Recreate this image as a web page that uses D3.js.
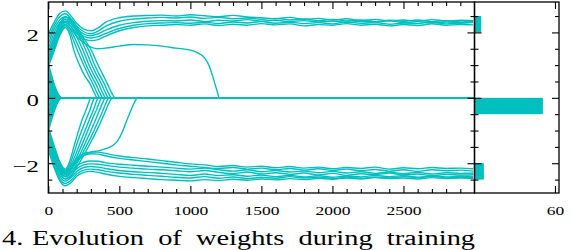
<!DOCTYPE html>
<html>
<head>
<meta charset="utf-8">
<script src="https://cdn.jsdelivr.net/npm/d3@7"></script>
<style>
  body { margin: 0; background: #fff; }
  svg { display: block; }
</style>
</head>
<body>
<svg id="chart" width="572" height="250"></svg>
<script>
// ---- data ----
// iterations shared by the weights that stay away from zero
const stayT = [0,40,80,120,160,200,250,300,350,400,500,600,700,800,900,1000,1100,1200,1300,1400,1500,
  1600,1700,1800,1900,2000,2100,2200,2300,2400,2500,2600,2700,2800,2900,2990];

const upperStay = [
  [1.95,2.3,2.58,2.66,2.5,2.28,2.1,2.05,2.14,2.3,2.45,2.5,2.52,2.53,2.5,2.54,2.51,2.48,2.52,2.47,2.45,2.42,2.46,2.4,2.43,2.38,2.42,2.36,2.4,2.35,2.38,2.34,2.39,2.35,2.37,2.36],
  [1.8,2.2,2.48,2.57,2.42,2.2,2.02,1.96,2.04,2.18,2.34,2.41,2.44,2.46,2.44,2.47,2.43,2.46,2.42,2.44,2.4,2.43,2.38,2.41,2.36,2.4,2.35,2.38,2.33,2.37,2.34,2.38,2.33,2.36,2.32,2.35],
  [1.65,2.1,2.38,2.48,2.35,2.12,1.95,1.9,1.96,2.06,2.22,2.3,2.34,2.36,2.35,2.38,2.33,2.37,2.35,2.39,2.34,2.37,2.33,2.36,2.32,2.35,2.3,2.34,2.31,2.36,2.3,2.33,2.29,2.32,2.3,2.33],
  [1.5,1.98,2.3,2.4,2.27,2.05,1.88,1.83,1.87,1.96,2.12,2.22,2.27,2.29,2.3,2.28,2.31,2.27,2.32,2.29,2.33,2.28,2.31,2.27,2.3,2.26,2.32,2.28,2.3,2.25,2.29,2.27,2.31,2.26,2.28,2.3],
  [1.35,1.85,2.2,2.32,2.18,1.96,1.8,1.75,1.78,1.88,2.05,2.15,2.2,2.22,2.24,2.22,2.26,2.21,2.25,2.22,2.27,2.23,2.26,2.2,2.24,2.22,2.27,2.22,2.25,2.2,2.24,2.21,2.26,2.22,2.24,2.23]
];

const lowerStay = [
  [-1.0,-1.6,-2.05,-2.23,-2.08,-1.85,-1.7,-1.66,-1.66,-1.7,-1.78,-1.83,-1.87,-1.92,-1.97,-2.02,-2.05,-2.1,-2.07,-2.12,-2.09,-2.14,-2.1,-2.15,-2.12,-2.17,-2.13,-2.16,-2.12,-2.18,-2.14,-2.17,-2.13,-2.16,-2.15,-2.17],
  [-1.1,-1.7,-2.12,-2.3,-2.15,-1.92,-1.76,-1.71,-1.72,-1.77,-1.85,-1.9,-1.95,-2.0,-2.05,-2.09,-2.13,-2.16,-2.13,-2.18,-2.15,-2.2,-2.16,-2.21,-2.17,-2.22,-2.18,-2.23,-2.19,-2.24,-2.2,-2.25,-2.2,-2.23,-2.21,-2.24],
  [-1.2,-1.8,-2.22,-2.4,-2.28,-2.08,-1.97,-1.93,-1.94,-1.98,-2.03,-2.06,-2.09,-2.12,-2.15,-2.18,-2.15,-2.2,-2.24,-2.2,-2.26,-2.22,-2.27,-2.24,-2.29,-2.25,-2.3,-2.26,-2.31,-2.27,-2.32,-2.28,-2.33,-2.29,-2.31,-2.3],
  [-1.3,-1.88,-2.3,-2.48,-2.37,-2.17,-2.05,-2.02,-2.03,-2.06,-2.12,-2.15,-2.18,-2.2,-2.23,-2.26,-2.22,-2.28,-2.32,-2.27,-2.33,-2.29,-2.34,-2.3,-2.36,-2.31,-2.37,-2.32,-2.35,-2.3,-2.36,-2.33,-2.38,-2.34,-2.36,-2.35],
  [-1.4,-1.96,-2.38,-2.55,-2.44,-2.25,-2.13,-2.1,-2.12,-2.16,-2.22,-2.26,-2.28,-2.31,-2.34,-2.37,-2.33,-2.38,-2.35,-2.4,-2.36,-2.41,-2.37,-2.42,-2.38,-2.43,-2.39,-2.42,-2.37,-2.41,-2.38,-2.43,-2.39,-2.42,-2.4,-2.41],
  [-1.5,-2.05,-2.46,-2.62,-2.52,-2.33,-2.21,-2.18,-2.2,-2.24,-2.3,-2.34,-2.37,-2.4,-2.43,-2.45,-2.41,-2.46,-2.42,-2.47,-2.43,-2.46,-2.41,-2.45,-2.42,-2.47,-2.43,-2.46,-2.42,-2.45,-2.41,-2.44,-2.4,-2.45,-2.42,-2.44],
  [-1.6,-2.12,-2.53,-2.69,-2.59,-2.4,-2.28,-2.25,-2.28,-2.33,-2.4,-2.44,-2.47,-2.5,-2.52,-2.54,-2.5,-2.53,-2.49,-2.52,-2.48,-2.51,-2.47,-2.5,-2.46,-2.49,-2.45,-2.48,-2.44,-2.47,-2.45,-2.48,-2.44,-2.47,-2.45,-2.46]
];

// weights that peak and then die out, as [iteration, value]
const upperDecay = [
  [[0,0.95],[40,1.42],[80,1.9],[120,2.15],[150,1.95],[180,1.45],[220,1.0],[260,0.65],[295,0.42],[322,0.17],[345,0],[2990,0]],
  [[0,1.0],[40,1.48],[80,1.96],[120,2.2],[150,2.05],[180,1.72],[205,1.45],[245,1.05],[282,0.7],[315,0.42],[342,0.16],[365,0],[2990,0]],
  [[0,1.08],[40,1.55],[80,2.02],[120,2.25],[150,2.13],[180,1.88],[225,1.45],[262,1.05],[300,0.7],[335,0.42],[362,0.16],[385,0],[2990,0]],
  [[0,1.15],[40,1.62],[80,2.07],[120,2.3],[155,2.2],[190,1.95],[245,1.45],[282,1.05],[320,0.7],[355,0.42],[382,0.16],[405,0],[2990,0]],
  [[0,1.22],[40,1.7],[80,2.13],[120,2.35],[160,2.26],[200,2.02],[265,1.45],[302,1.05],[340,0.7],[375,0.42],[402,0.16],[425,0],[2990,0]],
  [[0,1.3],[40,1.76],[80,2.19],[120,2.41],[160,2.33],[200,2.1],[240,1.8],[285,1.45],[322,1.05],[360,0.7],[395,0.42],[422,0.16],[445,0],[2990,0]],
  [[0,1.38],[40,1.84],[80,2.26],[120,2.47],[160,2.4],[200,2.18],[250,1.82],[305,1.44],[345,1.05],[385,0.7],[417,0.42],[445,0.16],[470,0],[2990,0]],
  [[0,1.15],[40,1.6],[80,2.02],[120,2.24],[160,2.1],[200,1.88],[250,1.68],[300,1.55],[350,1.5],[400,1.52],[500,1.58],[600,1.63],[700,1.62],[800,1.58],[900,1.52],[1000,1.46],[1050,1.38],[1100,1.22],[1130,1.0],[1160,0.62],[1185,0.25],[1205,0],[2990,0]]
];

const lowerDecay = [
  [[0,-0.9],[40,-1.45],[80,-1.95],[120,-2.18],[150,-1.95],[180,-1.5],[210,-1.05],[240,-0.65],[265,-0.38],[285,-0.14],[300,0],[2990,0]],
  [[0,-0.95],[40,-1.5],[80,-2.0],[120,-2.22],[150,-2.05],[180,-1.7],[210,-1.3],[240,-0.95],[270,-0.62],[295,-0.35],[312,-0.13],[325,0],[2990,0]],
  [[0,-1.0],[40,-1.55],[80,-2.05],[120,-2.27],[160,-2.05],[200,-1.65],[240,-1.2],[270,-0.88],[300,-0.55],[322,-0.32],[338,-0.12],[350,0],[2990,0]],
  [[0,-1.05],[40,-1.6],[80,-2.1],[120,-2.32],[160,-2.15],[200,-1.8],[240,-1.4],[280,-0.98],[315,-0.6],[345,-0.3],[362,-0.11],[375,0],[2990,0]],
  [[0,-1.12],[40,-1.66],[80,-2.14],[120,-2.36],[160,-2.22],[200,-1.92],[250,-1.48],[290,-1.1],[330,-0.7],[365,-0.33],[387,-0.11],[400,0],[2990,0]],
  [[0,-1.2],[40,-1.72],[80,-2.2],[120,-2.42],[160,-2.3],[200,-2.02],[250,-1.62],[300,-1.2],[345,-0.78],[385,-0.38],[410,-0.12],[425,0],[2990,0]],
  [[0,-1.28],[40,-1.8],[80,-2.26],[120,-2.48],[160,-2.38],[200,-2.12],[250,-1.75],[300,-1.35],[350,-0.92],[395,-0.48],[430,-0.14],[450,0],[2990,0]],
  [[0,-1.15],[40,-1.65],[80,-2.08],[120,-2.3],[160,-2.18],[200,-1.95],[250,-1.76],[300,-1.66],[350,-1.62],[400,-1.56],[450,-1.47],[490,-1.3],[520,-1.05],[550,-0.72],[580,-0.4],[605,-0.15],[630,0],[2990,0]]
];

// weights that collapse to zero right away: start value and iteration where they reach zero
const quickStart = [1.05,0.95,0.85,0.75,0.65,0.55,0.45,0.35,0.28,0.2,0.14,0.08,0.04,0.02,-0.02,-0.05,-0.1,-0.16,
  -0.22,-0.3,-0.38,-0.46,-0.55,-0.63,-0.72,-0.8,-0.88,-0.95,-1.02,0.6,-0.5,0.3,-0.25,0.9,-0.85];
const quickZeroAt = [96,92,88,85,82,78,74,70,66,62,58,50,40,30,30,40,55,60,64,68,72,76,80,84,88,90,93,95,98,80,75,68,62,90,92];
const lineEnd = 2990;

// histogram of the final weights (bin lower edge, count)
const histLower = [-2.5, -0.5, 2.0];
const histCounts = [7, 51, 5];
const binWidth = 0.5;

const xMajor = [0, 500, 1000, 1500, 2000, 2500];
const xMinor = d3.range(100, 3000, 100).filter(v => v % 500 !== 0);
const yMajor = [-2, 0, 2];
const yMinor = [-2.5, -1.5, -1, -0.5, 0.5, 1, 1.5, 2.5];
const histTicks = [60];
const figNumber = "4.";
const caption = "Evolution of weights during training";

// ---- drawing ----
const teal = "#00bfbf";
const serif = "'Liberation Serif', 'Times New Roman', serif";
const stretch = 1.42;
const plot = {left: 48.3, right: 474.5, top: 2, bottom: 193};
const histRight = 559;
const plain = d3.format("");

const svg = d3.select("#chart");

const x = d3.scaleLinear().domain([0, 3000]).range([plot.left, plot.right]);
const y = d3.scaleLinear().domain([-2.91, 2.93]).range([plot.bottom, plot.top]);
const hx = d3.scaleLinear().domain([0, 63]).range([plot.right, histRight]);

svg.append("clipPath").attr("id", "clip")
  .append("rect")
  .attr("x", plot.left).attr("y", plot.top)
  .attr("width", plot.right - plot.left).attr("height", plot.bottom - plot.top);

const line = d3.line()
  .x(d => x(d[0]))
  .y(d => y(d[1]))
  .curve(d3.curveMonotoneX);

let series = [];
upperStay.concat(lowerStay).forEach(vals => series.push(stayT.map((t, i) => [t, vals[i]])));
upperDecay.concat(lowerDecay).forEach(s => series.push(s));
quickStart.forEach((v, i) => series.push([[0, v], [quickZeroAt[i], 0], [lineEnd, 0]]));

svg.append("g")
  .attr("clip-path", "url(#clip)")
  .selectAll("path")
  .data(series)
  .join("path")
  .attr("fill", "none")
  .attr("stroke", teal)
  .attr("stroke-width", 1.4)
  .attr("stroke-linejoin", "round")
  .attr("d", line);

// histogram bars
svg.append("g")
  .selectAll("rect")
  .data(histLower)
  .join("rect")
  .attr("x", hx(0))
  .attr("y", d => y(d + binWidth))
  .attr("width", (d, i) => hx(histCounts[i]) - hx(0))
  .attr("height", d => y(d) - y(d + binWidth))
  .attr("fill", teal);

// axes, ticks pointing inwards
function addAxis(axis, tx, ty, len) {
  const g = svg.append("g")
    .attr("transform", "translate(" + tx + "," + ty + ")")
    .call(axis.tickSize(-len));
  g.select(".domain").remove();
  g.selectAll("line").attr("stroke", "#000").attr("stroke-width", 1.1);
  return g;
}
const blank = () => "";

// main panel
const xb = addAxis(d3.axisBottom(x).tickValues(xMajor).tickFormat(plain), 0, plot.bottom, 7);
addAxis(d3.axisBottom(x).tickValues(xMinor).tickFormat(blank), 0, plot.bottom, 4);
addAxis(d3.axisTop(x).tickValues(xMajor).tickFormat(blank), 0, plot.top, 7);
addAxis(d3.axisTop(x).tickValues(xMinor).tickFormat(blank), 0, plot.top, 4);
const yl = addAxis(d3.axisLeft(y).tickValues(yMajor).tickFormat(plain), plot.left, 0, 7);
addAxis(d3.axisLeft(y).tickValues(yMinor).tickFormat(blank), plot.left, 0, 4);
addAxis(d3.axisRight(y).tickValues(yMajor).tickFormat(blank), plot.right, 0, 7);
addAxis(d3.axisRight(y).tickValues(yMinor).tickFormat(blank), plot.right, 0, 4);

// histogram panel
addAxis(d3.axisLeft(y).tickValues(yMajor).tickFormat(blank), plot.right, 0, 7);
addAxis(d3.axisLeft(y).tickValues(yMinor).tickFormat(blank), plot.right, 0, 4);
addAxis(d3.axisRight(y).tickValues(yMajor).tickFormat(blank), histRight, 0, 7);
addAxis(d3.axisRight(y).tickValues(yMinor).tickFormat(blank), histRight, 0, 4);
const hb = addAxis(d3.axisBottom(hx).tickValues(histTicks).tickFormat(plain), 0, plot.bottom, 7);
addAxis(d3.axisTop(hx).tickValues(histTicks).tickFormat(blank), 0, plot.top, 7);

// tick label styling (the figure is stretched horizontally)
[xb, hb].forEach(g => g.selectAll("text")
  .attr("y", 22.3).attr("dy", 0)
  .attr("fill", "#000")
  .attr("font-family", serif).attr("font-size", 12.3)
  .attr("transform", "scale(" + stretch + ",1)"));

yl.selectAll("text")
  .attr("x", -(plot.left - 38.8) / stretch).attr("dy", 0).attr("y", 8)
  .attr("fill", "#000")
  .attr("font-family", serif).attr("font-size", 17.5)
  .attr("transform", "scale(" + stretch + ",1)");

// frames
[[plot.left, plot.right], [plot.right, histRight]].forEach(([a, b]) => {
  svg.append("rect")
    .attr("x", a).attr("y", plot.top)
    .attr("width", b - a).attr("height", plot.bottom - plot.top)
    .attr("fill", "none").attr("stroke", "#000").attr("stroke-width", 1.3);
});

// caption under the figure
const cap = svg.append("g")
  .attr("transform", "scale(" + stretch + ",1)")
  .attr("font-family", serif).attr("font-size", 20)
  .attr("fill", "#000");
cap.append("text")
  .attr("x", 2 / stretch).attr("y", 245)
  .text(figNumber);
cap.append("text")
  .attr("x", 32 / stretch).attr("y", 245)
  .attr("word-spacing", 5)
  .text(caption);
</script>
</body>
</html>
